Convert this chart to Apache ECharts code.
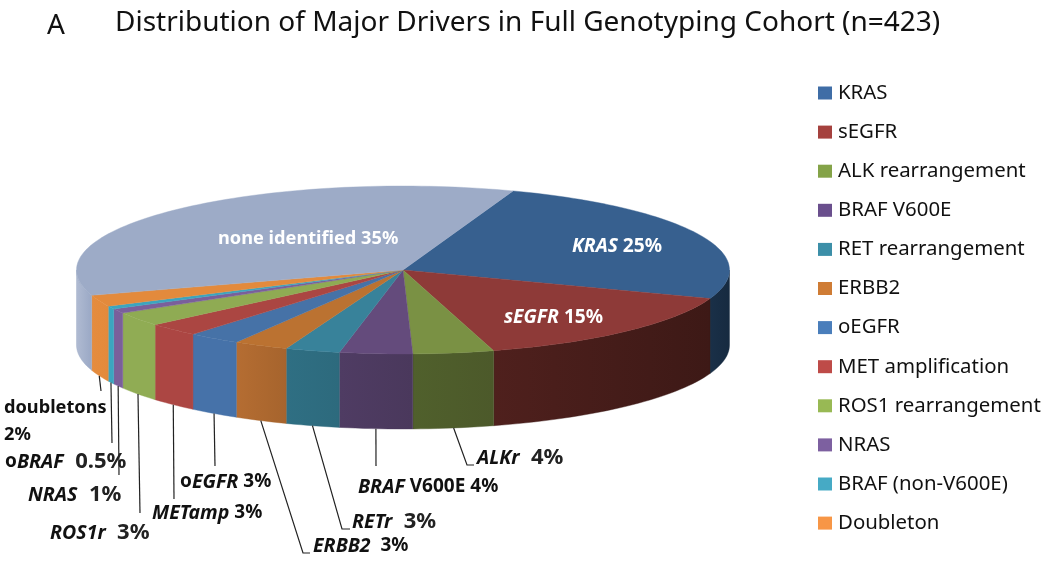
<!DOCTYPE html>
<html><head><meta charset="utf-8">
<style>html,body{margin:0;padding:0;background:#fff}#c{width:1050px;height:566px}</style>
<script src="https://cdn.jsdelivr.net/npm/echarts@6/dist/echarts.min.js"></script>
</head><body><div id="c"></div>
<script>
// ---- data ----
var categories = ['KRAS','sEGFR','ALK rearrangement','BRAF V600E','RET rearrangement','ERBB2','oEGFR','MET amplification','ROS1 rearrangement','NRAS','BRAF (non-V600E)','Doubleton','none identified'];
var sliceValues = [25.05,15,4,3.6,2.7,2.7,2.6,2.6,2.7,0.9,0.6,2.2,35.35];
var legendColors = ['#3f6da6','#a5413e','#84a348','#6a4f8d','#3c8fa8','#cf7c35','#4a7ebb','#be4b48','#98b954','#7d60a0','#46aac5','#f79646','#9dabc7'];
var topColors = ['#37608f','#8e3a38','#7a9144','#644b7c','#38829a','#bb7231','#4672a7','#ab4642','#8fab53','#7a5f9b','#3ba5bf','#e38a3c','#9dabc7'];
var wallLeft = ['#1a3048','#4f201d','#50602c','#4f3c63','#2f6f83','#b56d32','#4672a9','#ac4643','#90ac54','#7a5f9b','#3ba5bf','#e58c3e','#b0bbd2'];
var wallRight = ['#162a40','#3d1916','#4c592a','#4a385c','#2d6a7d','#a6642d','#4672a9','#ac4643','#90ac54','#7a5f9b','#3ba5bf','#e38a3c','#9aa8c5'];
// label text pieces: [text, style]
var labelParts = [
  [['KRAS','wi'],[' 25%','w']],
  [['sEGFR','wi'],[' 15%','w']],
  [['ALKr','i'],['  4%','p']],
  [['BRAF','i'],[' V600E 4%','b']],
  [['RETr','i'],['  3%','p']],
  [['ERBB2','i'],['  3%','b']],
  [['o','b'],['EGFR','i'],[' 3%','b']],
  [['METamp','i'],[' 3%','b']],
  [['ROS1r','i'],['  3%','p']],
  [['NRAS','i'],['  1%','p']],
  [['o','b'],['BRAF','i'],['  0.5%','p']],
  [['doubletons\n2%','b2']],
  [['none identified 35%','n']]
];
// ---- layout ----
var CX = 403, CY = 270, RX = 326.5, RY = 84, DEPTH = 75, START = 19.7;
var labelPos = [[572,247],[504,318],[477,458],[358,487],[352,522],[313,546],[180,482],[152,513],[50,533],[28,495],[5,462],[4,421],[218,239]];
var leaderPath = [null,null,[[467,465],[474,465]],[[376,466]],[[342,529],[350,529]],[[303,553],[310,553]],[[215,466]],[[174,499]],[[140,513]],[[119,475]],[[112,443]],[[101,391]],null];
var FONT = '"Noto Sans"';
var rich = {
  i:{fontFamily:FONT,fontWeight:'bold',fontStyle:'italic',fontSize:19.5,fill:'#111'},
  b:{fontFamily:FONT,fontWeight:'bold',fontSize:19,fill:'#111'},
  b2:{fontFamily:FONT,fontWeight:'bold',fontSize:18.2,fill:'#111',lineHeight:27},
  p:{fontFamily:FONT,fontWeight:'bold',fontSize:22,fill:'#222'},
  w:{fontFamily:FONT,fontWeight:'bold',fontSize:19.2,fill:'#fff'},
  wi:{fontFamily:FONT,fontWeight:'bold',fontStyle:'italic',fontSize:19.2,fill:'#fff'},
  n:{fontFamily:FONT,fontWeight:'bold',fontSize:18.2,fill:'#fff'}
};
var total = sliceValues.reduce(function(a,b){return a+b;},0);
function rim(t, dy){var r=t*Math.PI/180;return [CX+RX*Math.sin(r), CY-RY*Math.cos(r)+(dy||0)];}
function arc(a,b,dy){var n=Math.max(2,Math.ceil(Math.abs(b-a)/1.5)),p=[];for(var i=0;i<=n;i++)p.push(rim(a+(b-a)*i/n,dy));return p;}

function makeRender(idx){
  return function(params, api){
    var before = 0;
    for (var i=0;i<idx;i++) before += sliceValues[i];
    var a0 = START + before/total*360;
    var a1 = a0 + api.value(0)/total*360;
    var kids = [];
    // visible outer wall: the part of the rim between 90 and 270 degrees
    var w0 = Math.max(a0,90), w1 = Math.min(a1,270);
    if (w1 > w0) {
      var upper = arc(w0,w1,0), lower = arc(w1,w0,DEPTH);
      var grad = new echarts.graphic.LinearGradient(0,0,1,0,[{offset:0,color:wallLeft[idx]},{offset:1,color:wallRight[idx]}]);
      kids.push({type:'polygon',shape:{points:upper.concat(lower)},style:{fill:grad,stroke:wallRight[idx],lineWidth:0.4}});
    }
    // top surface
    kids.push({type:'polygon',shape:{points:[[CX,CY]].concat(arc(a0,a1,0))},style:{fill:topColors[idx],stroke:topColors[idx],lineWidth:0.4},z2:5});
    // leader line, from the wall's lower edge at the slice's mid angle
    if (leaderPath[idx]) {
      kids.push({type:'polyline',shape:{points:[rim((a0+a1)/2,DEPTH)].concat(leaderPath[idx])},style:{stroke:'#222',lineWidth:1.2,fill:null},z2:6});
    }
    var txt = labelParts[idx].map(function(p){return '{'+p[1]+'|'+p[0].replace(/\n/g,'}\n{'+p[1]+'|')+'}';}).join('');
    kids.push({type:'text',z2:10,style:{x:labelPos[idx][0],y:labelPos[idx][1],text:txt,rich:rich,verticalAlign:'middle',align:'left'}});
    return {type:'group',children:kids};
  };
}

var series = categories.map(function(name,i){
  return {type:'custom',name:name,coordinateSystem:'none',silent:true,renderItem:makeRender(i),
    itemStyle:{color:legendColors[i]},data:[[sliceValues[i]]]};
});

var chart = echarts.init(document.getElementById('c'));
chart.setOption({
  animation:false,
  backgroundColor:'#fff',
  title:[
    {text:'Distribution of Major Drivers in Full Genotyping Cohort (n=423)',left:115,top:9,padding:0,textStyle:{fontFamily:FONT,fontWeight:'normal',fontSize:28,color:'#111'}},
    {text:'A',left:47,top:12,padding:0,textStyle:{fontFamily:FONT,fontWeight:'normal',fontSize:28,color:'#111'}}
  ],
  legend:{
    orient:'vertical',left:818,top:80,padding:0,
    data:categories.slice(0,12),
    icon:'rect',itemWidth:14,itemHeight:13,itemGap:13.1,
    selectedMode:false,
    textStyle:{fontFamily:FONT,fontSize:20.4,color:'#111',padding:[0,0,0,1],lineHeight:26}
  },
  series:series
});
</script></body></html>
